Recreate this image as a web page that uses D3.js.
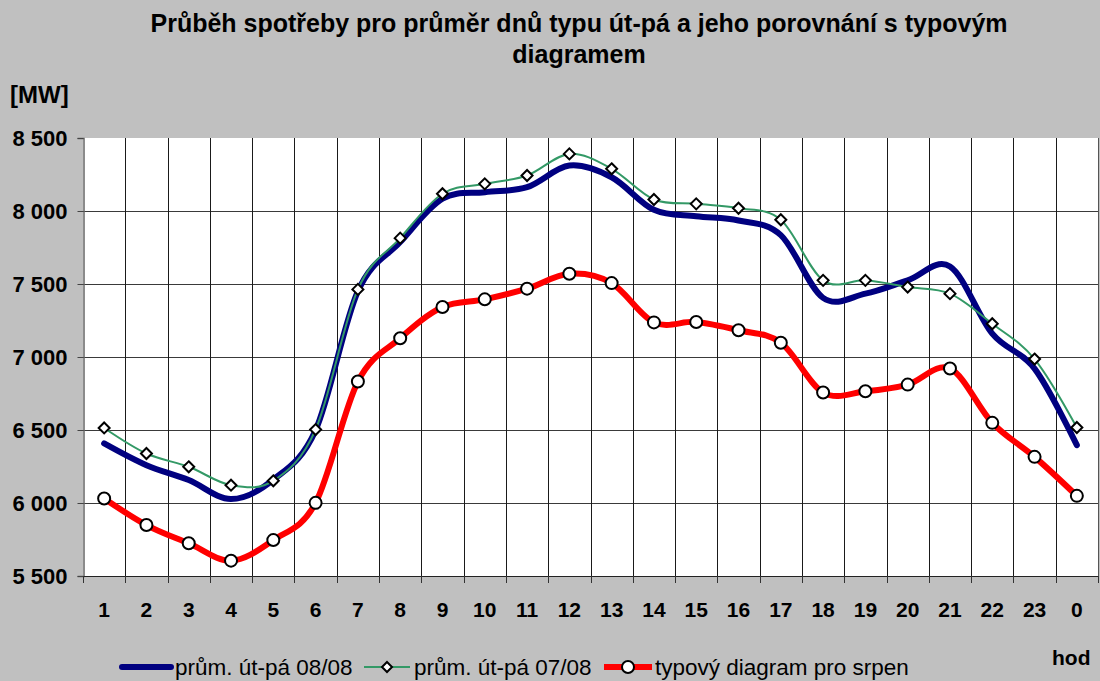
<!DOCTYPE html>
<html><head><meta charset="utf-8">
<script src="https://cdn.jsdelivr.net/npm/d3@7"></script>
<style>
html,body{margin:0;padding:0;background:#C0C0C0;}
svg{display:block;font-family:"Liberation Sans",Arial,sans-serif;}
</style></head>
<body>
<svg id="c" width="1100" height="681"></svg>
<script>
const hours = ["1","2","3","4","5","6","7","8","9","10","11","12","13","14","15","16","17","18","19","20","21","22","23","0"];
const avg0808 = [6408,6259,6157,6027,6160,6499,7450,7787,8084,8129,8163,8311,8231,8008,7964,7935,7835,7405,7434,7525,7620,7160,6920,6396];
const avg0708 = [6514,6339,6248,6122,6152,6503,7463,7814,8118,8186,8243,8391,8289,8079,8049,8019,7940,7525,7525,7479,7434,7228,6986,6517];
const typical = [6031,5849,5724,5605,5746,6001,6832,7128,7342,7395,7468,7570,7506,7237,7240,7183,7098,6757,6765,6811,6921,6549,6316,6049];
const yTicks = [5500,6000,6500,7000,7500,8000,8500];
const seriesNames = ["prům. út-pá 08/08","prům. út-pá 07/08","typový diagram pro srpen"];
const titleLines = ["Průběh spotřeby pro průměr dnů typu út-pá a jeho porovnání s typovým","diagramem"];

const svg = d3.select("#c");
const L = 83, R = 1098, T = 138, B = 576;
const x = d3.scaleBand().domain(hours).range([L, R]).paddingInner(0).paddingOuter(0);
const y = d3.scaleLinear().domain([5500, 8500]).range([B, T]);
const cx = h => x(h) + x.bandwidth()/2;
const fmt = v => d3.format(",")(v).replace(/,/g, " ");

// plot area
svg.append("rect").attr("x", L).attr("y", T).attr("width", R-L).attr("height", B-T).attr("fill", "#fff");

// horizontal gridlines
svg.append("g").selectAll("line").data(yTicks.filter(v => v > 5500 && v < 8500)).join("line")
  .attr("x1", L).attr("x2", R).attr("y1", d => Math.round(y(d))+0.5).attr("y2", d => Math.round(y(d))+0.5)
  .attr("stroke", "#3a3a3a").attr("stroke-width", 1);
// vertical gridlines at category boundaries
svg.append("g").selectAll("line").data(hours.slice(1)).join("line")
  .attr("x1", d => Math.round(x(d))+0.5).attr("x2", d => Math.round(x(d))+0.5).attr("y1", T).attr("y2", B)
  .attr("stroke", "#1a1a1a").attr("stroke-width", 1);
// right border
svg.append("line").attr("x1", R+0.5).attr("x2", R+0.5).attr("y1", T).attr("y2", B).attr("stroke", "#555");

// y axis
const yAxis = d3.axisLeft(y).tickValues(yTicks).tickFormat(fmt).tickSize(6).tickPadding(10);
const gy = svg.append("g").attr("transform", `translate(${L+0.5},0)`).call(yAxis);
gy.select(".domain").attr("stroke", "#666").attr("stroke-width", 1.5);
gy.selectAll(".tick line").attr("stroke", "#444");
gy.selectAll(".tick text").attr("font-size", 22).attr("font-weight", "bold").attr("fill", "#000")
  .attr("font-family", "Liberation Sans, Arial, sans-serif");

// x axis: ticks at boundaries
const xb = d3.scaleLinear().domain([0, hours.length]).range([L, R]);
const gxt = svg.append("g");
gxt.append("line").attr("x1", L).attr("x2", R).attr("y1", B+0.5).attr("y2", B+0.5).attr("stroke", "#222").attr("stroke-width", 1);
gxt.selectAll("line.t").data(d3.range(0, hours.length+1)).join("line").attr("class","t")
  .attr("x1", d => Math.round(xb(d))+0.5).attr("x2", d => Math.round(xb(d))+0.5).attr("y1", B).attr("y2", B+7)
  .attr("stroke", "#333");
const xAxis = d3.axisBottom(x).tickSize(0).tickPadding(0);
const gx = svg.append("g").attr("transform", `translate(0,${B})`).call(xAxis);
gx.select(".domain").remove();
gx.selectAll(".tick text").attr("dy", 0).attr("y", 41).attr("font-size", 21).attr("font-weight", "bold")
  .attr("fill", "#000").attr("font-family", "Liberation Sans, Arial, sans-serif");

// lines
const curve = d3.curveCardinal.tension(0);
const line = d3.line().x((d,i) => cx(hours[i])).y(d => y(d)).curve(curve);
svg.append("path").datum(avg0808).attr("d", line).attr("fill","none").attr("stroke","#000080").attr("stroke-width",6).attr("stroke-linecap","round");
svg.append("path").datum(avg0708).attr("d", line).attr("fill","none").attr("stroke","#339966").attr("stroke-width",2);
svg.append("path").datum(typical).attr("d", line).attr("fill","none").attr("stroke","#FF0000").attr("stroke-width",6);

const diamond = (px, py, s) => `M${px},${py-s}L${px+s},${py}L${px},${py+s}L${px-s},${py}Z`;
svg.append("g").selectAll("path").data(avg0708).join("path")
  .attr("d", (d,i) => diamond(cx(hours[i]), y(d), 5.5))
  .attr("fill","#fff").attr("stroke","#000").attr("stroke-width",2);
svg.append("g").selectAll("circle").data(typical).join("circle")
  .attr("cx", (d,i) => cx(hours[i])).attr("cy", d => y(d)).attr("r", 6)
  .attr("fill","#fff").attr("stroke","#000").attr("stroke-width",2);

// title
svg.append("g").selectAll("text").data(titleLines).join("text")
  .attr("x", 579).attr("y", (d,i) => 32 + i*31).attr("text-anchor","middle")
  .attr("font-size", 25).attr("font-weight","bold").attr("fill","#000").text(d => d);

svg.append("text").attr("x", 10).attr("y", 103).attr("font-size", 24).attr("font-weight","bold").text("[MW]");
svg.append("text").attr("x", 1052).attr("y", 665).attr("font-size", 21).attr("font-weight","bold").text("hod");

// legend
const ly = 667;
const lg = svg.append("g");
lg.append("line").attr("x1",122).attr("x2",171).attr("y1",ly).attr("y2",ly).attr("stroke","#000080").attr("stroke-width",6).attr("stroke-linecap","round");
lg.append("text").attr("x",175).attr("y",ly+8).attr("font-size",22.5).text(seriesNames[0]);
lg.append("line").attr("x1",364).attr("x2",410).attr("y1",ly).attr("y2",ly).attr("stroke","#339966").attr("stroke-width",2);
lg.append("path").attr("d", diamond(387, ly, 5)).attr("fill","#fff").attr("stroke","#000").attr("stroke-width",2);
lg.append("text").attr("x",414).attr("y",ly+8).attr("font-size",22.5).text(seriesNames[1]);
lg.append("line").attr("x1",604).attr("x2",652).attr("y1",ly).attr("y2",ly).attr("stroke","#FF0000").attr("stroke-width",6);
lg.append("circle").attr("cx",628).attr("cy",ly).attr("r",6).attr("fill","#fff").attr("stroke","#000").attr("stroke-width",2);
lg.append("text").attr("x",655).attr("y",ly+8).attr("font-size",22.5).text(seriesNames[2]);
</script>
</body></html>
